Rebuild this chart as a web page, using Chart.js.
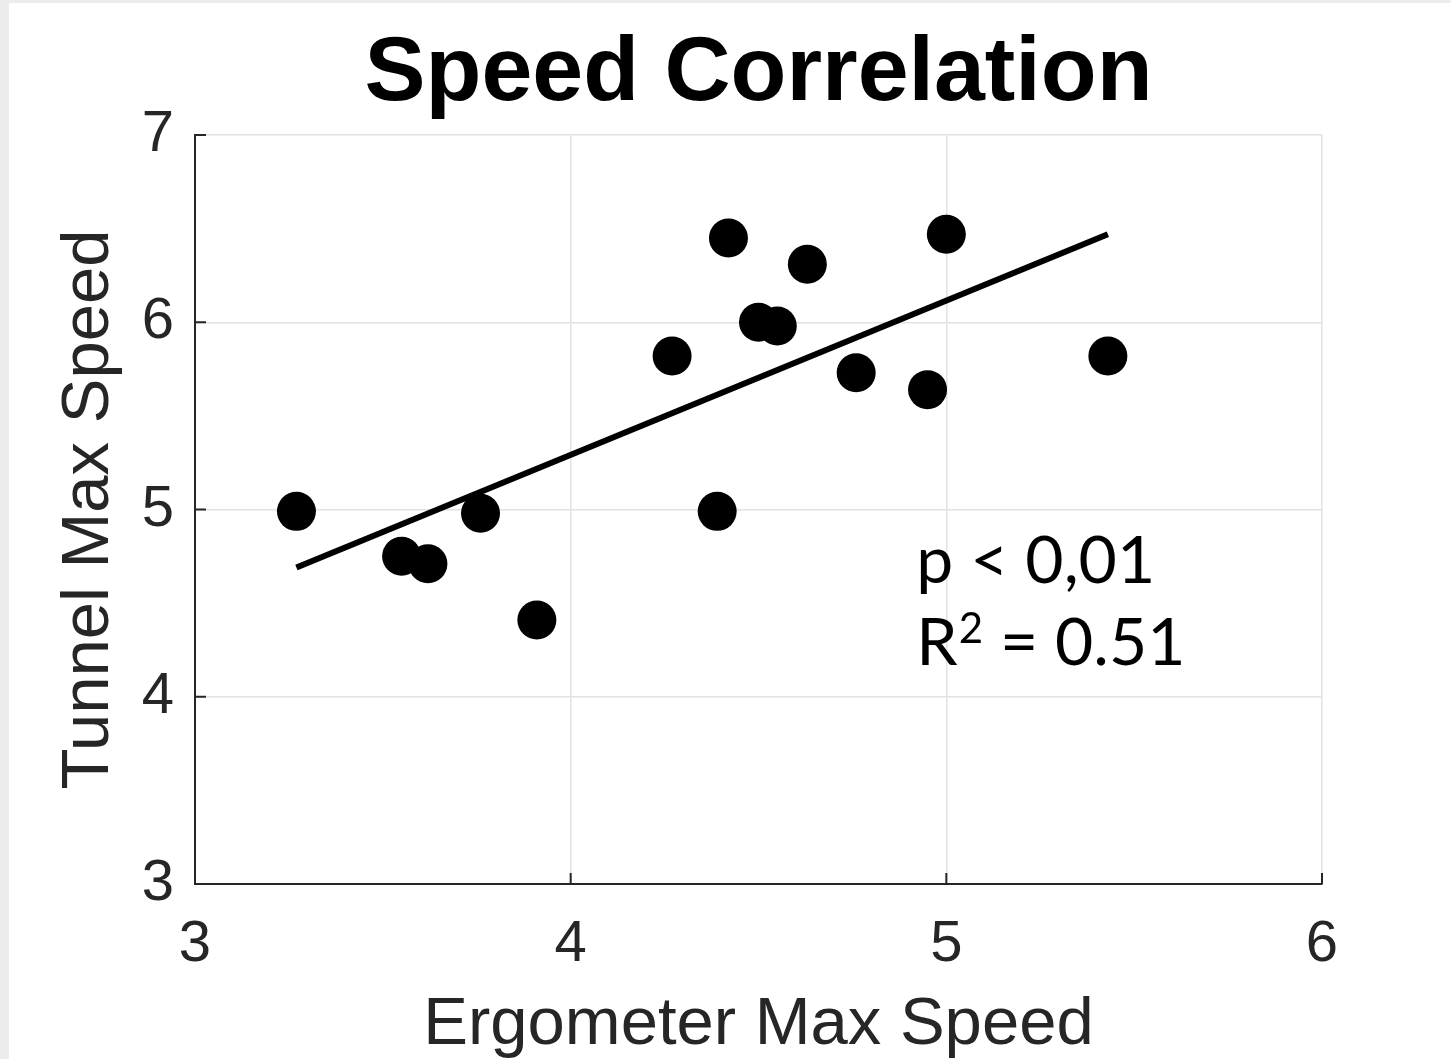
<!DOCTYPE html>
<html>
<head>
<meta charset="utf-8">
<title>Speed Correlation</title>
<script src="https://cdn.jsdelivr.net/npm/chart.js@4.4.1/dist/chart.umd.min.js"></script>
<style>
  html, body { margin: 0; padding: 0; background: #fff; overflow: hidden; }
  canvas { display: block; }
</style>
</head>
<body>
<canvas id="speedChart" width="1451" height="1059"></canvas>
<script>
// athlete max speeds: ergometer (x) vs tunnel (y)
const ergometerSpeed = [3.27, 3.55, 3.62, 3.76, 3.91, 4.27, 4.39, 4.42, 4.50, 4.55, 4.63, 4.76, 4.95, 5.00, 5.43];
const tunnelSpeed    = [4.99, 4.75, 4.71, 4.98, 4.41, 5.82, 4.99, 6.45, 6.00, 5.98, 6.31, 5.73, 5.64, 6.47, 5.82];

// least squares fit, end points
const fitX = [3.27, 5.43];
const fitY = [4.69, 6.47];

const xTicks = [3, 4, 5, 6];
const yTicks = [3, 4, 5, 6, 7];

const statLines = ['p < 0,01', 'R2 = 0.51'];

const AXIS_COLOR = '#262626';
const GRID_COLOR = '#e2e2e2';

// where the stats text sits, in data units
const NOTE_X = 4.92;
const NOTE_Y = [4.61, 4.17];

const points = ergometerSpeed.map((x, i) => ({ x: x, y: tunnelSpeed[i] }));
const fitPoints = fitX.map((x, i) => ({ x: x, y: fitY[i] }));

// grey edge strip + white background
const pageFrame = {
    id: 'pageFrame',
    beforeDraw(chart) {
        const ctx = chart.ctx;
        ctx.save();
        ctx.fillStyle = '#ffffff';
        ctx.fillRect(0, 0, chart.width, chart.height);
        ctx.fillStyle = '#ececec';
        ctx.fillRect(0, 0, 9, chart.height);
        ctx.fillRect(0, 0, chart.width, 3);
        ctx.restore();
    }
};

// matlab style ticks pointing into the plot
const innerTicks = {
    id: 'innerTicks',
    afterDraw(chart) {
        const ctx = chart.ctx;
        const xs = chart.scales.x, ys = chart.scales.y;
        const area = chart.chartArea;
        ctx.save();
        ctx.strokeStyle = AXIS_COLOR;
        ctx.lineWidth = 2;
        ctx.beginPath();
        xTicks.forEach(v => {
            const px = xs.getPixelForValue(v);
            ctx.moveTo(px, area.bottom);
            ctx.lineTo(px, area.bottom - 11);
        });
        yTicks.forEach(v => {
            const py = ys.getPixelForValue(v);
            ctx.moveTo(area.left, py);
            ctx.lineTo(area.left + 11, py);
        });
        ctx.stroke();
        ctx.restore();
    }
};

// p value and R squared
const statsNote = {
    id: 'statsNote',
    afterDatasetsDraw(chart) {
        const ctx = chart.ctx;
        const xs = chart.scales.x, ys = chart.scales.y;
        const x0 = xs.getPixelForValue(NOTE_X);
        const y1 = ys.getPixelForValue(NOTE_Y[0]);
        const y2 = ys.getPixelForValue(NOTE_Y[1]);
        ctx.save();
        ctx.fillStyle = '#000';
        ctx.textBaseline = 'alphabetic';
        ctx.textAlign = 'left';
        ctx.font = '66px Lato';
        ctx.fillText(statLines[0], x0, y1);

        // second line with superscript 2
        const [rPart, rest] = statLines[1].split('2');
        ctx.fillText(rPart, x0, y2);
        let cx = x0 + ctx.measureText(rPart).width + 1;
        ctx.font = '42px Lato';
        ctx.fillText('2', cx, y2 - 22);
        cx += ctx.measureText('2').width;
        ctx.font = '66px Lato';
        ctx.fillText(rest, cx, y2);
        ctx.restore();
    }
};

const tickFont = { family: 'Liberation Sans, Arial, sans-serif', size: 58 };
const labelFont = { family: 'Liberation Sans, Arial, sans-serif', size: 67 };

new Chart(document.getElementById('speedChart'), {
    type: 'scatter',
    data: {
        datasets: [
            {
                label: 'fit',
                type: 'line',
                data: fitPoints,
                borderColor: '#000',
                borderWidth: 6,
                borderCapStyle: 'butt',
                pointRadius: 0,
                fill: false
            },
            {
                label: 'athletes',
                data: points,
                backgroundColor: '#000',
                borderColor: '#000',
                borderWidth: 0,
                pointRadius: 19.5,
                pointHoverRadius: 19.5
            }
        ]
    },
    options: {
        responsive: false,
        animation: false,
        events: [],
        layout: { padding: { left: 0, right: 129, top: 0, bottom: 0 } },
        plugins: {
            legend: { display: false },
            tooltip: { enabled: false },
            title: {
                display: true,
                text: 'Speed Correlation',
                color: '#000',
                fullSize: false,
                font: { family: 'Liberation Sans, Arial, sans-serif', size: 91.5, weight: 'bold', lineHeight: 1 },
                padding: { top: 29, bottom: 14.5 }
            }
        },
        scales: {
            x: {
                type: 'linear',
                min: 3,
                max: 6,
                afterBuildTicks: s => { s.ticks = xTicks.map(v => ({ value: v })); },
                afterFit: s => { s.height = 175; },
                grid: { color: GRID_COLOR, lineWidth: 1.5, drawTicks: false },
                border: { color: AXIS_COLOR, width: 2 },
                ticks: { color: AXIS_COLOR, font: tickFont, padding: 26, maxRotation: 0 },
                title: {
                    display: true,
                    text: 'Ergometer Max Speed',
                    color: AXIS_COLOR,
                    font: Object.assign({ lineHeight: 1 }, labelFont),
                    padding: { top: 0, bottom: 0 }
                }
            },
            y: {
                type: 'linear',
                min: 3,
                max: 7,
                afterBuildTicks: s => { s.ticks = yTicks.map(v => ({ value: v })); },
                afterFit: s => { s.width = 195; },
                grid: { color: GRID_COLOR, lineWidth: 1.5, drawTicks: false },
                border: { color: AXIS_COLOR, width: 2 },
                ticks: { color: AXIS_COLOR, font: tickFont, padding: 21 },
                title: {
                    display: true,
                    text: 'Tunnel Max Speed',
                    color: AXIS_COLOR,
                    font: Object.assign({ lineHeight: 1.2 }, labelFont),
                    padding: { top: 49, bottom: 0 }
                }
            }
        }
    },
    plugins: [pageFrame, innerTicks, statsNote]
});
</script>
</body>
</html>
